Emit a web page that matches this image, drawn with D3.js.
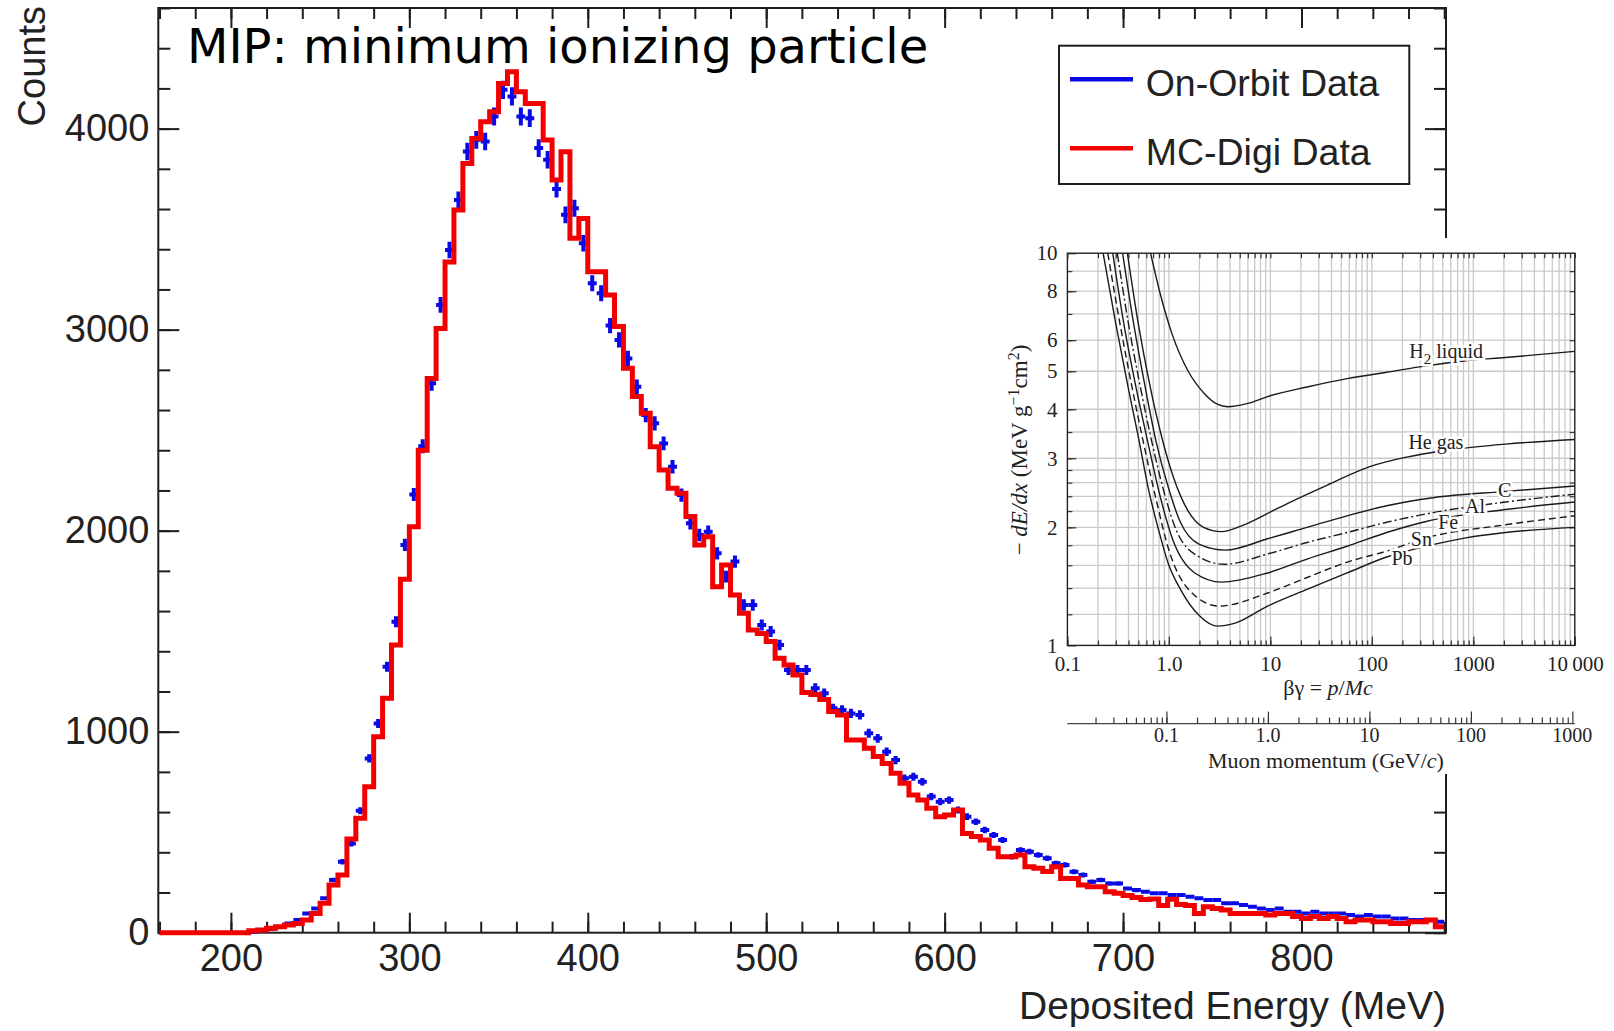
<!DOCTYPE html>
<html>
<head>
<meta charset="utf-8">
<script src="https://cdn.jsdelivr.net/npm/d3@7"></script>
<style>
  html, body { margin: 0; padding: 0; background: #fff; }
  svg { display: block; }
</style>
</head>
<body>
<script>
const width = 1614;
const height = 1031;

// histogram bins, 5 MeV wide, first bin starts at 160 MeV
const binStart = 160;
const binWidth = 5;

// MC-Digi Data (red step histogram), one value per bin 160..875
const mcDigi = [
  0, 0, 0, 0, 0, 0, 0, 0, 0, 0,
  10, 13, 22, 30, 38, 46, 63, 96, 146, 237,
  287, 466, 569, 726, 975, 1166, 1431, 1758, 2020, 2400,
  2757, 3006, 3337, 3595, 3827, 3951, 4034, 4084, 4225, 4283,
  4183, 4125, 4125, 3943, 3744, 3885, 3454, 3553, 3288, 3288,
  3172, 3015, 2808, 2667, 2584, 2418, 2302, 2211, 2186, 2070,
  1929, 1970, 1721, 1829, 1680, 1589, 1506, 1489, 1448, 1365,
  1332, 1282, 1195, 1185, 1160, 1100, 1083, 959, 959, 917,
  876, 842, 793, 743, 685, 660, 619, 577, 586, 610,
  494, 478, 461, 420, 378, 378, 386, 328, 320, 304,
  328, 270, 270, 237, 229, 229, 204, 196, 185, 175,
  165, 168, 135, 167, 140, 135, 96, 129, 121, 113,
  96, 96, 96, 96, 88, 96, 96, 80, 71, 80,
  71, 80, 71, 55, 63, 63, 55, 55, 46, 46,
  55, 55, 63, 30
];

// On-Orbit Data (blue points), same bins
const onOrbit = [
  0, 0, 0, 0, 0, 0, 0, 0, 0, 0,
  5, 12, 18, 28, 46, 63, 96, 121, 171, 262,
  353, 444, 607, 867, 1041, 1323, 1547, 1929, 2180, 2420,
  2733, 3123, 3396, 3645, 3886, 3944, 3936, 4060, 4193, 4160,
  4060, 4052, 3903, 3845, 3700, 3571, 3604, 3430, 3231, 3181,
  3020, 2949, 2857, 2716, 2575, 2534, 2434, 2318, 2177, 2037,
  1978, 1995, 1887, 1771, 1846, 1630, 1630, 1531, 1498, 1431,
  1307, 1307, 1307, 1216, 1191, 1116, 1108, 1091, 1083, 992,
  967, 900, 859, 768, 776, 751, 677, 652, 660, 610,
  577, 552, 511, 486, 461, 378, 411, 403, 386, 370,
  345, 337, 303, 287, 254, 262, 245, 245, 220, 212,
  204, 196, 196, 187, 187, 179, 171, 163, 163, 146,
  146, 138, 129, 121, 113, 121, 104, 104, 96, 104,
  96, 96, 96, 88, 80, 88, 80, 80, 71, 71,
  63, 63, 63, 55
];

const xMajor = [200, 300, 400, 500, 600, 700, 800];
const xMinor = d3.range(160, 881, 20);
const yMajor = [0, 1000, 2000, 3000, 4000];
const yMinor = d3.range(0, 4601, 200);

const legendItems = [
  { label: "On-Orbit Data", color: "#0a0ae6" },
  { label: "MC-Digi Data", color: "#f20000" }
];

// inset: -dE/dx versus beta*gamma (values as [betaGamma, dEdx])
const h2Liquid = [[0.66, 10], [0.83, 7.8], [1.08, 6.2], [1.55, 5.0], [2.23, 4.39], [3.0, 4.12], [3.8, 4.06], [6.0, 4.14], [9.4, 4.31], [23, 4.56], [57, 4.79], [140, 4.97], [343, 5.16], [843, 5.32], [2070, 5.42], [10000, 5.62]];
const heGas = [[0.39, 10], [0.5, 6.6], [0.65, 4.6], [0.85, 3.4], [1.1, 2.7], [1.55, 2.2], [2.2, 2.0], [3.3, 1.95], [5.5, 2.03], [9.4, 2.17], [14.7, 2.3], [36, 2.56], [97, 2.86], [219, 3.02], [537, 3.14], [2070, 3.26], [10000, 3.35]];
const carbon = [[0.35, 10], [0.45, 6.6], [0.58, 4.6], [0.75, 3.3], [1.0, 2.5], [1.3, 2.06], [2.0, 1.81], [3.6, 1.75], [9.4, 1.87], [23, 2.0], [57, 2.14], [140, 2.27], [400, 2.38], [2070, 2.47], [10000, 2.55]];
const aluminium = [[0.31, 10], [0.4, 6.6], [0.52, 4.6], [0.68, 3.3], [0.9, 2.45], [1.2, 1.95], [2.0, 1.68], [3.5, 1.61], [9.4, 1.71], [23, 1.83], [57, 1.94], [140, 2.06], [400, 2.18], [2070, 2.32], [10000, 2.43]];
const iron = [[0.28, 10], [0.36, 6.6], [0.47, 4.6], [0.62, 3.3], [0.82, 2.4], [1.1, 1.85], [1.8, 1.53], [3.3, 1.45], [9.4, 1.53], [23, 1.66], [57, 1.79], [140, 1.94], [343, 2.07], [2070, 2.22], [10000, 2.32]];
const tin = [[0.25, 10], [0.33, 6.6], [0.43, 4.6], [0.56, 3.3], [0.75, 2.35], [1.0, 1.75], [1.6, 1.38], [3.1, 1.26], [9.4, 1.36], [23, 1.49], [57, 1.63], [140, 1.74], [343, 1.88], [2070, 2.03], [10000, 2.14]];
const lead = [[0.225, 10], [0.3, 6.6], [0.4, 4.5], [0.5, 3.4], [0.63, 2.5], [0.8, 1.95], [1.0, 1.6], [1.3, 1.39], [2.0, 1.19], [3.0, 1.12], [4.5, 1.14], [9.4, 1.26], [23, 1.39], [57, 1.53], [140, 1.68], [343, 1.79], [843, 1.88], [2070, 1.94], [10000, 2.0]];

const insetCurves = [
  { data: h2Liquid, dash: null },
  { data: heGas, dash: null },
  { data: carbon, dash: null },
  { data: aluminium, dash: "9,3,2,3" },
  { data: iron, dash: null },
  { data: tin, dash: "7,4" },
  { data: lead, dash: null }
];
// curve names, placed at [betaGamma, dEdx]
const insetLabels = [
  { text: "He gas", at: [428, 3.29] },
  { text: "C", at: [2040, 2.48] },
  { text: "Al", at: [1038, 2.25] },
  { text: "Fe", at: [566, 2.05] },
  { text: "Sn", at: [308, 1.86] },
  { text: "Pb", at: [198, 1.66] }
];

const insetXTicks = [0.1, 1, 10, 100, 1000, 10000];
const insetXLabels = ["0.1", "1.0", "10", "100", "1000", "10\u2009000"];
const insetYTicks = [1, 2, 3, 4, 5, 6, 8, 10];
const insetYGrid = [1.2, 1.4, 1.6, 1.8, 2, 2.2, 2.4, 2.6, 2.8, 3, 3.5, 4, 5, 6, 7, 8, 9];
const momentumTicks = [0.1, 1, 10, 100, 1000];
const momentumLabels = ["0.1", "1.0", "10", "100", "1000"];
const muonMass = 0.10566; // GeV

const svg = d3.select("body")
  .append("svg")
  .attr("width", width)
  .attr("height", height);

// ---------- main histogram ----------
const x = d3.scaleLinear().domain([159.3, 881]).range([158.3, 1446]);
const y = d3.scaleLinear().domain([0, 4600]).range([932.7, 8]);
const [fx0, fx1] = x.range();
const [fy1, fy0] = y.range();

const axisColor = "#1e1e1e";
const sans = "'Liberation Sans', Arial, sans-serif";

function styleAxis(g) {
  g.select(".domain").remove();
  g.selectAll(".tick line").attr("stroke", axisColor).attr("stroke-width", 2);
  g.selectAll(".tick text")
    .attr("fill", "#222")
    .attr("font-family", sans)
    .attr("font-size", 38);
}

svg.append("g").attr("transform", `translate(0,${fy1})`)
  .call(d3.axisBottom(x).tickValues(xMinor).tickSize(-11).tickFormat(""))
  .call(styleAxis);
svg.append("g").attr("transform", `translate(0,${fy1})`)
  .call(d3.axisBottom(x).tickValues(xMajor).tickSize(-20).tickPadding(11).tickFormat(d3.format("d")))
  .call(styleAxis);
svg.append("g").attr("transform", `translate(0,${fy0})`)
  .call(d3.axisTop(x).tickValues(xMinor).tickSize(-11).tickFormat(""))
  .call(styleAxis);
svg.append("g").attr("transform", `translate(0,${fy0})`)
  .call(d3.axisTop(x).tickValues(xMajor).tickSize(-20).tickFormat(""))
  .call(styleAxis);
svg.append("g").attr("transform", `translate(${fx0},0)`)
  .call(d3.axisLeft(y).tickValues(yMinor).tickSize(-12).tickFormat(""))
  .call(styleAxis);
svg.append("g").attr("transform", `translate(${fx0},0)`)
  .call(d3.axisLeft(y).tickValues(yMajor).tickSize(-21).tickPadding(9).tickFormat(d3.format("d")))
  .call(styleAxis);
svg.append("g").attr("transform", `translate(${fx1},0)`)
  .call(d3.axisRight(y).tickValues(yMinor).tickSize(-12).tickFormat(""))
  .call(styleAxis);
svg.append("g").attr("transform", `translate(${fx1},0)`)
  .call(d3.axisRight(y).tickValues(yMajor).tickSize(-21).tickFormat(""))
  .call(styleAxis);

svg.append("rect")
  .attr("x", fx0).attr("y", fy0)
  .attr("width", fx1 - fx0).attr("height", fy1 - fy0)
  .attr("fill", "none")
  .attr("stroke", axisColor)
  .attr("stroke-width", 2);

const bins = mcDigi.map((c, i) => ({ e: binStart + i * binWidth, c: c, d: onOrbit[i] }));

// data points with error bars
const points = svg.append("g")
  .attr("stroke", legendItems[0].color)
  .attr("fill", "none");
points.selectAll("path")
  .data(bins.filter(b => b.d > 0))
  .enter()
  .append("path")
  .attr("stroke-width", 4)
  .attr("d", b => {
    const err = Math.sqrt(b.d) * 0.7;
    const xc = x(b.e + binWidth / 2);
    return `M${x(b.e)},${y(b.d)}H${x(b.e + binWidth)}` +
      `M${xc},${y(b.d + err)}V${y(Math.max(b.d - err, 0))}`;
  });

// MC step histogram
const stepPoints = bins.concat([{ e: binStart + bins.length * binWidth, c: bins[bins.length - 1].c }]);
svg.append("path")
  .datum(stepPoints)
  .attr("fill", "none")
  .attr("stroke", legendItems[1].color)
  .attr("stroke-width", 5)
  .attr("stroke-linejoin", "miter")
  .attr("d", d3.line().x(d => x(d.e)).y(d => y(d.c)).curve(d3.curveStepAfter));

// axis titles
svg.append("text")
  .attr("transform", `translate(45,6) rotate(-90)`)
  .attr("text-anchor", "end")
  .attr("font-family", sans)
  .attr("font-size", 38)
  .attr("fill", "#222")
  .text("Counts");

svg.append("text")
  .attr("x", fx1)
  .attr("y", 1019)
  .attr("text-anchor", "end")
  .attr("font-family", sans)
  .attr("font-size", 39)
  .attr("fill", "#222")
  .text("Deposited Energy (MeV)");

svg.append("text")
  .attr("x", 187)
  .attr("y", 63)
  .attr("font-family", "'DejaVu Sans', Verdana, sans-serif")
  .attr("font-size", 48)
  .attr("fill", "#000")
  .text("MIP: minimum ionizing particle");

// legend
const legend = svg.append("g");
legend.append("rect")
  .attr("x", 1059).attr("y", 45.7)
  .attr("width", 350.3).attr("height", 138.3)
  .attr("fill", "#fff")
  .attr("stroke", axisColor)
  .attr("stroke-width", 2);
legendItems.forEach((item, i) => {
  const ly = 79.3 + i * 69;
  legend.append("line")
    .attr("x1", 1070).attr("x2", 1133)
    .attr("y1", ly).attr("y2", ly)
    .attr("stroke", item.color)
    .attr("stroke-width", 4.5);
  legend.append("text")
    .attr("x", 1145.7).attr("y", ly + 17)
    .attr("font-family", sans)
    .attr("font-size", 37.5)
    .attr("fill", "#222")
    .text(item.label);
});

// ---------- inset (pasted figure) ----------
const inset = svg.append("g");
inset.append("rect")
  .attr("x", 1000).attr("y", 238)
  .attr("width", 614).attr("height", 536)
  .attr("fill", "#fff");

const ix = d3.scaleLog().domain([0.1, 10000]).range([1067.4, 1574.8]);
const iy = d3.scaleLog().domain([1, 10]).range([645.4, 253.2]);
const im = d3.scaleLog().domain([0.1 * muonMass, 10000 * muonMass]).range(ix.range());
const [ix0, ix1] = ix.range();
const [iy1, iy0] = iy.range();
const serif = "'Liberation Serif', 'Times New Roman', serif";

const xGrid = [];
for (let p = -1; p < 4; p++) {
  for (let k = 1; k < 10; k++) xGrid.push(k * Math.pow(10, p));
}
xGrid.push(10000);
const momentumMinor = [];
for (let p = -2; p < 3; p++) {
  for (let k = 1; k < 10; k++) {
    const v = k * Math.pow(10, p);
    if (v >= im.domain()[0] && v <= im.domain()[1]) momentumMinor.push(v);
  }
}

inset.append("g")
  .attr("stroke", "#c9c9c9")
  .attr("stroke-width", 1.3)
  .selectAll("line")
  .data(xGrid.filter(v => v > 0.1 && v < 10000))
  .enter().append("line")
  .attr("x1", d => ix(d)).attr("x2", d => ix(d))
  .attr("y1", iy0).attr("y2", iy1);
inset.append("g")
  .attr("stroke", "#c9c9c9")
  .attr("stroke-width", 1.3)
  .selectAll("line")
  .data(insetYGrid)
  .enter().append("line")
  .attr("x1", ix0).attr("x2", ix1)
  .attr("y1", d => iy(d)).attr("y2", d => iy(d));

function styleInsetAxis(g) {
  g.select(".domain").remove();
  g.selectAll(".tick line").attr("stroke", "#333").attr("stroke-width", 1.2);
  g.selectAll(".tick text")
    .attr("fill", "#222")
    .attr("font-family", serif)
    .attr("font-size", 21);
}

inset.append("g").attr("transform", `translate(0,${iy1})`)
  .call(d3.axisBottom(ix).tickValues(xGrid).tickSize(-5).tickFormat(""))
  .call(styleInsetAxis);
inset.append("g").attr("transform", `translate(0,${iy1})`)
  .call(d3.axisBottom(ix).tickValues(insetXTicks).tickSize(-9).tickPadding(11)
    .tickFormat((d, i) => insetXLabels[i]))
  .call(styleInsetAxis);
inset.append("g").attr("transform", `translate(0,${iy0})`)
  .call(d3.axisTop(ix).tickValues(xGrid).tickSize(-5).tickFormat(""))
  .call(styleInsetAxis);
inset.append("g").attr("transform", `translate(${ix0},0)`)
  .call(d3.axisLeft(iy).tickValues(insetYGrid).tickSize(-5).tickFormat(""))
  .call(styleInsetAxis);
inset.append("g").attr("transform", `translate(${ix0},0)`)
  .call(d3.axisLeft(iy).tickValues(insetYTicks).tickSize(-9).tickPadding(10).tickFormat(d3.format("d")))
  .call(styleInsetAxis);
inset.append("g").attr("transform", `translate(${ix1},0)`)
  .call(d3.axisRight(iy).tickValues(insetYGrid).tickSize(-5).tickFormat(""))
  .call(styleInsetAxis);

inset.append("rect")
  .attr("x", ix0).attr("y", iy0)
  .attr("width", ix1 - ix0).attr("height", iy1 - iy0)
  .attr("fill", "none")
  .attr("stroke", "#222")
  .attr("stroke-width", 1.4);

// curves
const insetLine = d3.line()
  .x(d => ix(d[0]))
  .y(d => iy(d[1]))
  .curve(d3.curveMonotoneX);
inset.append("g")
  .selectAll("path")
  .data(insetCurves)
  .enter().append("path")
  .attr("fill", "none")
  .attr("stroke", "#1a1a1a")
  .attr("stroke-width", 1.4)
  .attr("stroke-dasharray", d => d.dash)
  .attr("d", d => insetLine(d.data));

// curve names
const h2 = inset.append("text")
  .attr("x", ix(540)).attr("y", iy(5.6) + 6)
  .attr("text-anchor", "middle")
  .attr("font-family", serif)
  .attr("font-size", 20)
  .attr("fill", "#222")
  .attr("stroke", "#fff").attr("stroke-width", 5).attr("paint-order", "stroke");
h2.append("tspan").text("H");
h2.append("tspan").attr("font-size", 15).attr("dy", 6).text("2");
h2.append("tspan").attr("dy", -6).text(" liquid");

inset.append("g")
  .selectAll("text")
  .data(insetLabels)
  .enter().append("text")
  .attr("x", d => ix(d.at[0]))
  .attr("y", d => iy(d.at[1]) + 6)
  .attr("text-anchor", "middle")
  .attr("font-family", serif)
  .attr("font-size", 20)
  .attr("fill", "#222")
  .attr("stroke", "#fff").attr("stroke-width", 5).attr("paint-order", "stroke")
  .text(d => d.text);

// inset axis titles
const yTitle = inset.append("text")
  .attr("transform", `translate(1027,450) rotate(-90)`)
  .attr("text-anchor", "middle")
  .attr("font-family", serif)
  .attr("font-size", 23)
  .attr("fill", "#222");
yTitle.append("tspan").text("\u2212 ");
yTitle.append("tspan").attr("font-style", "italic").text("dE/dx");
yTitle.append("tspan").text(" (MeV g");
yTitle.append("tspan").attr("font-size", 16).attr("dy", -8).text("\u22121");
yTitle.append("tspan").attr("dy", 8).text("cm");
yTitle.append("tspan").attr("font-size", 16).attr("dy", -8).text("2");
yTitle.append("tspan").attr("dy", 8).text(")");

const bgTitle = inset.append("text")
  .attr("x", 1328).attr("y", 695)
  .attr("text-anchor", "middle")
  .attr("font-family", serif)
  .attr("font-size", 22)
  .attr("fill", "#222");
bgTitle.append("tspan").text("\u03b2\u03b3 = ");
bgTitle.append("tspan").attr("font-style", "italic").text("p");
bgTitle.append("tspan").text("/");
bgTitle.append("tspan").attr("font-style", "italic").text("Mc");

// muon momentum axis
const momentumY = 723.6;
inset.append("line")
  .attr("x1", ix0).attr("x2", ix1)
  .attr("y1", momentumY).attr("y2", momentumY)
  .attr("stroke", "#444").attr("stroke-width", 1.4);
inset.append("g").attr("transform", `translate(0,${momentumY})`)
  .call(d3.axisTop(im).tickValues(momentumMinor).tickSize(6).tickFormat(""))
  .call(styleInsetAxis);
inset.append("g").attr("transform", `translate(0,${momentumY})`)
  .call(d3.axisTop(im).tickValues(momentumTicks).tickSize(12).tickFormat(""))
  .call(styleInsetAxis);
inset.append("g")
  .selectAll("text")
  .data(momentumTicks)
  .enter().append("text")
  .attr("x", d => im(d))
  .attr("y", 742)
  .attr("text-anchor", "middle")
  .attr("font-family", serif)
  .attr("font-size", 20)
  .attr("fill", "#222")
  .text((d, i) => momentumLabels[i]);

const pTitle = inset.append("text")
  .attr("x", 1326).attr("y", 768)
  .attr("text-anchor", "middle")
  .attr("font-family", serif)
  .attr("font-size", 22)
  .attr("fill", "#222");
pTitle.append("tspan").text("Muon momentum (GeV/");
pTitle.append("tspan").attr("font-style", "italic").text("c");
pTitle.append("tspan").text(")");
</script>
</body>
</html>
